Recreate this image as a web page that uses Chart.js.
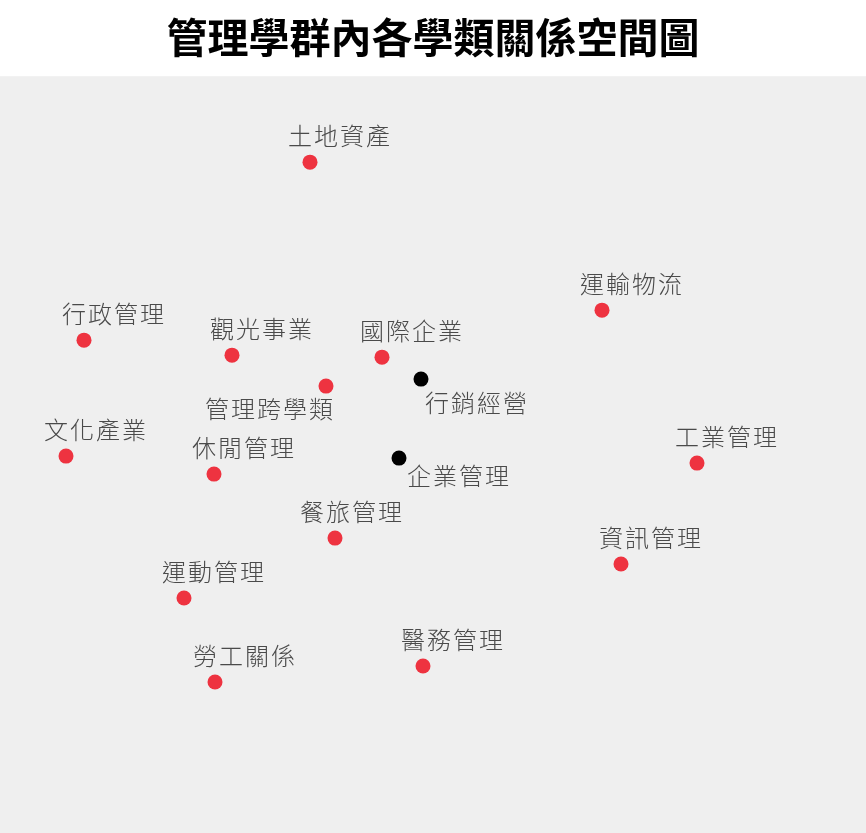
<!DOCTYPE html>
<html>
<head>
<meta charset="utf-8">
<title>管理學群內各學類關係空間圖</title>
<script src="https://cdn.jsdelivr.net/npm/chart.js@4/dist/chart.umd.min.js"></script>
<style>
  html, body { margin: 0; padding: 0; background: #fff; }
  #wrap { width: 866px; height: 833px; }
</style>
</head>
<body>
<div id="wrap"><canvas id="mapChart"></canvas></div>
<script>
// 學類名稱
const names = ['土地資產', '運輸物流', '行政管理', '觀光事業', '國際企業', '管理跨學類',
  '行銷經營', '文化產業', '休閒管理', '企業管理', '工業管理', '餐旅管理',
  '資訊管理', '運動管理', '勞工關係', '醫務管理'];
// 向度一 / 向度二
const dim1 = [-1.23, 1.69, -3.49, -2.01, -0.51, -1.07, -0.12, -3.67, -2.19, -0.34, 2.64, -0.98, 1.88, -2.49, -2.18, -0.10];
const dim2 = [2.93, 1.45, 1.15, 1.00, 0.98, 0.69, 0.76, -0.01, -0.19, -0.03, -0.08, -0.83, -1.09, -1.43, -2.27, -2.11];
// these two are drawn in black
const highlighted = ['行銷經營', '企業管理'];

// where each label sits relative to its dot (px)
const labelOffsets = {
  '管理跨學類': [-56, 23],
  '行銷經營': [56, 24],
  '企業管理': [60, 18],
  '餐旅管理': [17, -26]
};
const defaultOffset = [30, -26];

const points = names.map((n, i) => ({ x: dim1[i], y: dim2[i], name: n }));
const dotColors = names.map(n => highlighted.includes(n) ? '#000000' : '#ee3340');

const plotBackground = {
  id: 'plotBackground',
  beforeDraw(chart) {
    const { ctx, chartArea } = chart;
    ctx.save();
    ctx.fillStyle = '#efefef';
    ctx.fillRect(0, chartArea.top, chart.width, chart.height - chartArea.top);
    ctx.restore();
  }
};

const pointLabels = {
  id: 'pointLabels',
  afterDatasetsDraw(chart) {
    const ctx = chart.ctx;
    const meta = chart.getDatasetMeta(0);
    ctx.save();
    ctx.font = '300 24px "Noto Sans CJK TC", sans-serif';
    ctx.fillStyle = '#4a4a4a';
    ctx.textAlign = 'center';
    ctx.textBaseline = 'middle';
    if ('letterSpacing' in ctx) ctx.letterSpacing = '2px';
    meta.data.forEach((el, i) => {
      const off = labelOffsets[names[i]] || defaultOffset;
      ctx.fillText(names[i], el.x + off[0], el.y + off[1]);
    });
    ctx.restore();
  }
};

new Chart(document.getElementById('mapChart'), {
  type: 'scatter',
  data: {
    datasets: [{
      label: '學類',
      data: points,
      pointBackgroundColor: dotColors,
      pointBorderWidth: 0,
      pointRadius: 7.5,
      pointHoverRadius: 7.5
    }]
  },
  options: {
    responsive: true,
    maintainAspectRatio: false,
    animation: false,
    layout: { padding: 0, autoPadding: false },
    scales: {
      x: { type: 'linear', min: -4.33, max: 4.33, display: false },
      y: { type: 'linear', min: -3.78, max: 3.79, display: false }
    },
    plugins: {
      legend: { display: false },
      tooltip: { enabled: false },
      title: {
        display: true,
        text: '管理學群內各學類關係空間圖',
        color: '#000',
        font: { family: '"Noto Sans CJK TC", sans-serif', size: 41, weight: 'bold', lineHeight: 1.2 },
        padding: { top: 13, bottom: 14 }
      }
    }
  },
  plugins: [plotBackground, pointLabels]
});
</script>
</body>
</html>
